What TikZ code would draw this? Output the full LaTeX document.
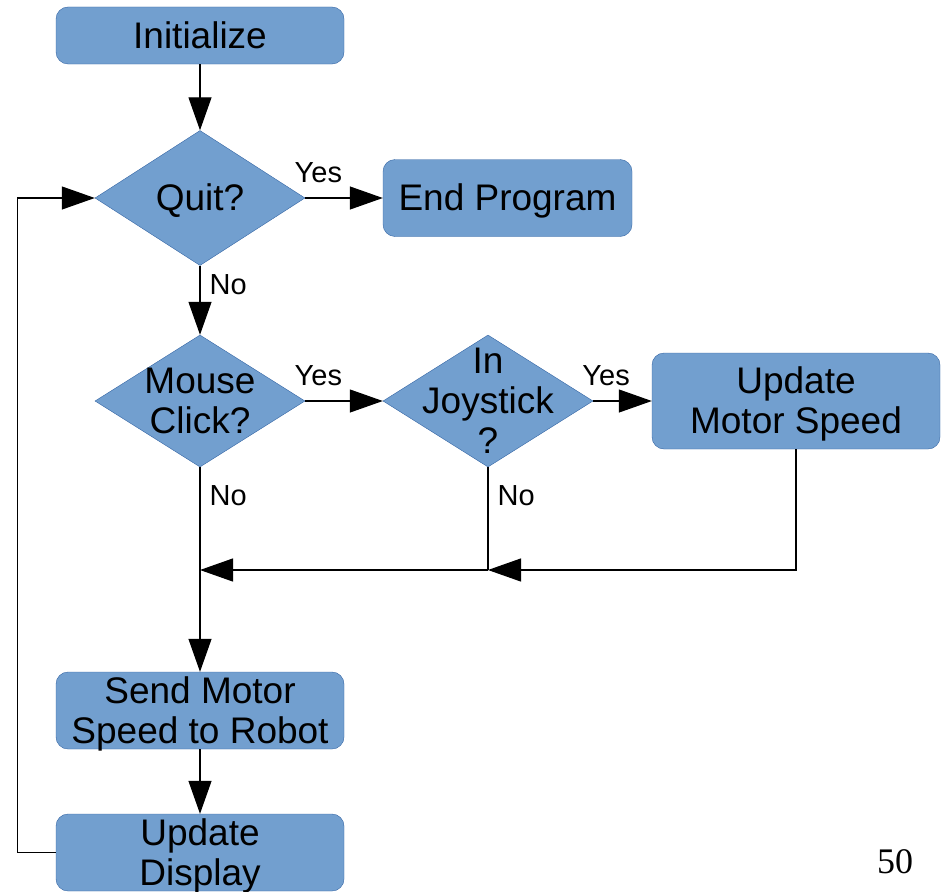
\documentclass[tikz,border=0pt]{standalone}
\usepackage{fontspec}
\setmainfont{Liberation Sans}
\newfontfamily\pagefont{Liberation Serif}
\usepackage{xcolor}
\usetikzlibrary{arrows.meta,positioning,shapes.geometric}
\definecolor{boxfill}{HTML}{729FCF}
\definecolor{boxline}{HTML}{3465A4}
% line box like the font's ascent and descent
\newcommand{\topstrut}{\rule{0pt}{0.905em}}
\newcommand{\botstrut}{\rule[-0.212em]{0pt}{0.212em}}
\tikzset{
  boxtext/.style={align=center,font=\fontsize{37}{40}\selectfont},
  proc/.style={boxtext,draw=boxline,fill=boxfill,rounded corners=12pt,
    minimum width=288pt,inner sep=0pt},
  dec/.style={draw=boxline,fill=boxfill,diamond,minimum width=210pt,
    minimum height=132pt,inner sep=0pt},
  lab/.style={font=\fontsize{29}{32}\selectfont,inner sep=1pt},
  flow/.style={-{Triangle[length=33pt,width=23pt]},line width=1.2pt},
}

\begin{document}
\begin{tikzpicture}[x=1pt,y=1pt]
  \useasboundingbox (0,0) rectangle (941,-891);

  % boxes and decisions
  \node[proc,minimum height=57pt] (init) at (200,-35.5) {\topstrut Initialize\botstrut};
  \node[dec,minimum height=135pt,label={[boxtext]center:\topstrut Quit?\botstrut}] (quit) at (200,-198) {};
  \node[proc,minimum width=249pt,minimum height=77pt] (endp) at (507.5,-198) {\topstrut End Program\botstrut};
  \node[dec,label={[boxtext]center:\topstrut Mouse\\Click?\botstrut}] (mouse) at (200,-401) {};
  \node[dec,label={[boxtext]center:\topstrut In\\Joystick\\?\botstrut}] (joy) at (488,-401) {};
  \node[proc,minimum height=96pt] (upd) at (796,-401) {\topstrut Update\\Motor Speed\botstrut};
  \node[proc,minimum height=77pt,inner ysep=-2.2pt] (send) at (200,-710.5) {\topstrut Send Motor\\Speed to Robot\botstrut};
  \node[proc,minimum height=77pt,inner ysep=-2.2pt] (disp) at (200,-852.5) {\topstrut Update\\Display\botstrut};
  \node[font=\pagefont\fontsize{36}{40}\selectfont] (pnum) at (895,-862) {50};

  % merge points
  \coordinate (mergeL) at (200,-570);
  \coordinate (mergeR) at (488,-570);

  % flow
  \draw[flow] (init) -- (quit);
  \draw[flow] (quit.east) -- node[lab,pos=0.17,above=14pt] {Yes} (endp.west);
  \draw[flow] (quit.south) -- node[lab,pos=0.27,right=8pt] {No} (mouse.north);
  \draw[flow] (mouse.east) -- node[lab,pos=0.17,above=14pt] {Yes} (joy.west);
  \draw[flow] (joy.east) -- node[lab,pos=0.22,above=14pt] {Yes} (upd.west);
  \draw[flow] (mouse.south) -- node[lab,pos=0.14,right=8pt] {No} (send.north);
  \draw[line width=1.2pt] (joy.south) -- node[lab,pos=0.28,right=8pt] {No} (mergeR);
  \draw[flow] (mergeR) -- (mergeL);
  \draw[flow] (upd.south) |- (mergeR);
  \draw[flow] (send) -- (disp);
  \draw[flow] (disp.west) -- ++(-38,0) |- (quit.west);
\end{tikzpicture}
\end{document}
